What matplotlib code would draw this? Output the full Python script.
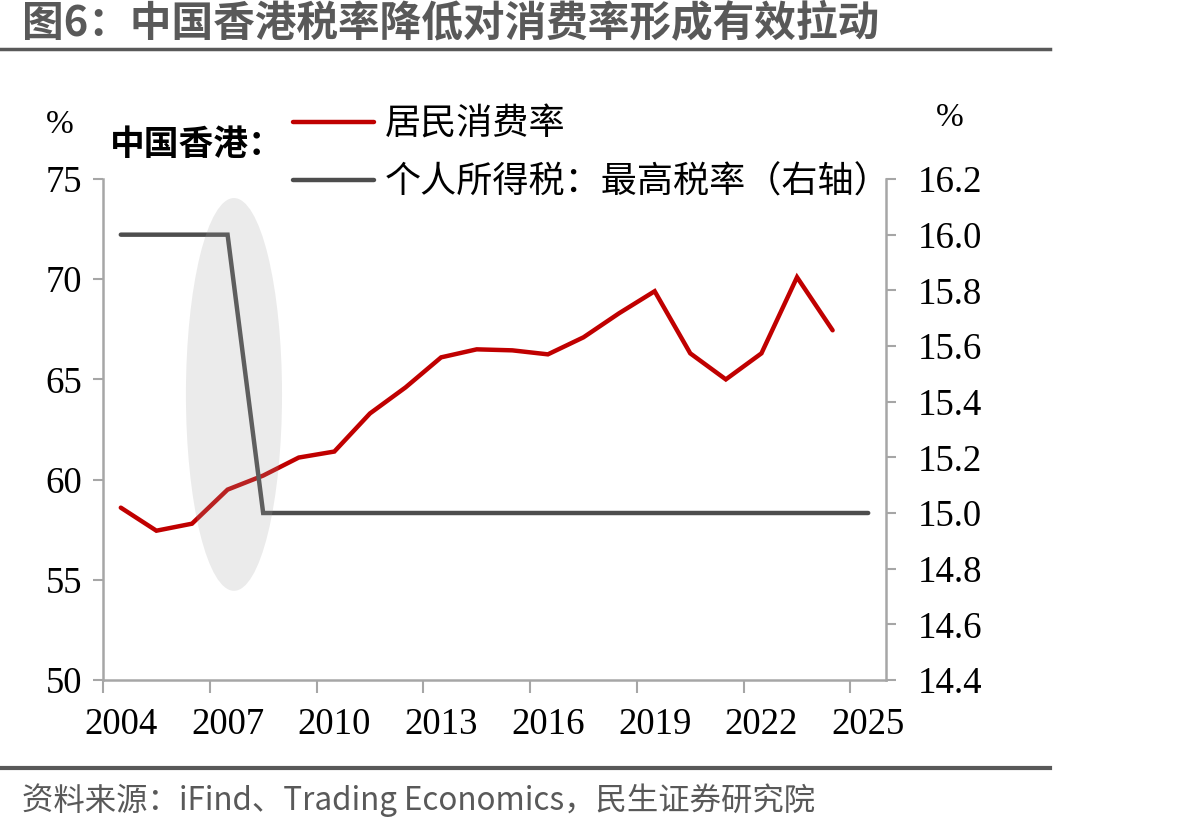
import matplotlib
matplotlib.use("Agg")
import matplotlib.pyplot as plt
from matplotlib.patches import Ellipse
from matplotlib.ticker import FixedLocator, NullFormatter

years = list(range(2004, 2026))
consumption_years = list(range(2004, 2025))
consumption_rate = [58.6, 57.45, 57.8, 59.5, 60.2, 61.1, 61.4, 63.3, 64.6, 66.1,
                    66.5, 66.45, 66.25, 67.1, 68.3, 69.4, 66.3, 65.0, 66.3, 70.1, 67.45]
tax_years = list(range(2004, 2026))
top_tax_rate = [16.0, 16.0, 16.0, 16.0] + [15.0] * 18

title = "图6：中国香港税率降低对消费率形成有效拉动"
source = "资料来源：iFind、Trading Economics，民生证券研究院"
label_cons = "居民消费率"
label_tax = "个人所得税：最高税率（右轴）"
region_label = "中国香港："
xtick_labels = [str(y) for y in range(2004, 2026, 3)]
left_ticks = [50, 55, 60, 65, 70, 75]
right_ticks = [14.4, 14.6, 14.8, 15.0, 15.2, 15.4, 15.6, 15.8, 16.0, 16.2]

SERIF = ["Liberation Serif", "Noto Sans CJK SC"]
CJK = ["Noto Sans CJK SC", "DejaVu Sans"]
RED = "#C00000"
DGRAY = "#4D4D4D"
AXC = "#A6A6A6"
TXT = "#595959"

W, H = 1199, 830
fig = plt.figure(figsize=(W / 100, H / 100), dpi=100)

ax = fig.add_axes([103 / W, 1 - 680 / H, (886 - 103) / W, (680 - 179) / H])
ax2 = ax.twinx()

xc = [years.index(y) for y in consumption_years]
xt = [years.index(y) for y in tax_years]
l1, = ax.plot(xc, consumption_rate, color=RED, lw=3.2, solid_capstyle="round",
              solid_joinstyle="miter", label=label_cons, zorder=3)
l2, = ax2.plot(xt, top_tax_rate, color=DGRAY, lw=3.2, solid_capstyle="round",
               solid_joinstyle="miter", label=label_tax, zorder=3)

ax.set_xlim(-0.5, len(years) - 0.5)
ax.set_ylim(50, 75)
ax2.set_ylim(14.4, 16.2)

# highlight ellipse over the 2007-2008 tax cut
ell = Ellipse((3.18, 64.25), 2.7, 19.6, transform=ax.transData,
              facecolor="#A1A1A1", edgecolor="none", alpha=0.21, zorder=5)
ax2.add_patch(ell)

# x ticks: marks at category boundaries, labels at every 3rd category
ax.xaxis.set_major_locator(FixedLocator([i - 0.5 for i in range(0, len(years), 3)]))
ax.xaxis.set_major_formatter(NullFormatter())
ax.xaxis.set_minor_locator(FixedLocator(list(range(0, len(years), 3))))
ax.set_xticklabels(xtick_labels, minor=True)
ax.tick_params(axis="x", which="major", direction="out", length=9, width=1.5, color=AXC)
ax.tick_params(axis="x", which="minor", length=0, pad=20, labelsize=26.5, labelcolor="black")
for t in ax.get_xticklabels(minor=True):
    t.set_fontfamily(SERIF)

ax.set_yticks(left_ticks)
ax.set_yticklabels([str(v) for v in left_ticks])
ax.tick_params(axis="y", direction="out", length=7, width=1.5, color=AXC, pad=8,
               labelsize=26.5, labelcolor="black")
for t in ax.get_yticklabels():
    t.set_fontfamily(SERIF)

ax2.set_yticks(right_ticks)
ax2.set_yticklabels([f"{v:.1f}" for v in right_ticks])
ax2.tick_params(axis="y", direction="out", length=7, width=1.5, color=AXC, pad=16,
                labelsize=26.5, labelcolor="black")
for t in ax2.get_yticklabels():
    t.set_fontfamily(SERIF)

for a in (ax, ax2):
    a.spines["top"].set_visible(False)
    for s in ("left", "right", "bottom"):
        a.spines[s].set_color(AXC)
        a.spines[s].set_linewidth(1.8)
ax2.spines["left"].set_visible(False)
ax2.spines["bottom"].set_visible(False)
ax.spines["right"].set_visible(False)

# unit labels
fig.text(60 / W, 1 - 125 / H, "%", fontsize=24, family=SERIF, ha="center", va="center")
fig.text(950 / W, 1 - 118 / H, "%", fontsize=24, family=SERIF, ha="center", va="center")
fig.text(110 / W, 1 - 145 / H, region_label, fontsize=25, family=CJK, fontweight="bold",
         ha="left", va="center", color="black")

leg = fig.legend(handles=[l1, l2], loc="upper left",
                 bbox_to_anchor=(293 / W, 1 - 109 / H), frameon=False,
                 borderaxespad=0, borderpad=0, handlelength=2.25, handletextpad=0.28,
                 labelspacing=0.63, prop={"family": SERIF, "size": 26})

# title and source
fig.text(22 / W, 1 - 23 / H, title, fontsize=30, fontweight="bold", family=CJK,
         color=TXT, ha="left", va="center")
fig.add_artist(plt.Line2D([0, 1050 / W], [1 - 49 / H, 1 - 49 / H], color=TXT, lw=2.5,
                          transform=fig.transFigure))
fig.add_artist(plt.Line2D([0, 1050 / W], [1 - 768 / H, 1 - 768 / H], color=TXT, lw=3,
                          transform=fig.transFigure))
fig.text(22 / W, 1 - 800 / H, source, fontsize=22.6, family=CJK, color=TXT,
         ha="left", va="center")

fig.savefig("out.png", dpi=100)
